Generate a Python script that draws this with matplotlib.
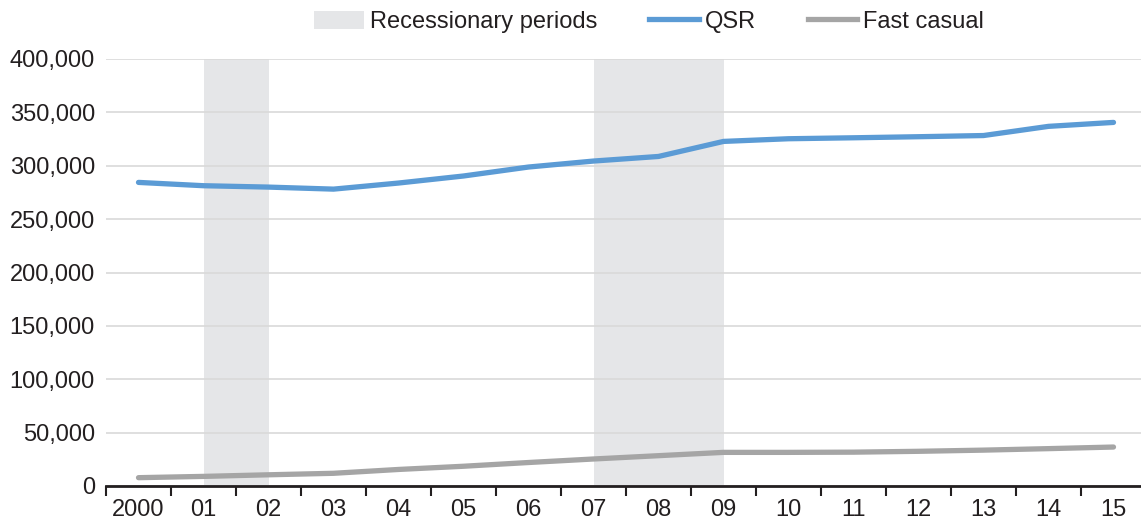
import matplotlib.pyplot as plt
import numpy as np
from matplotlib.patches import Patch
from matplotlib.lines import Line2D

plt.rcParams['font.family'] = ['Liberation Sans', 'DejaVu Sans']

years = ['2000', '01', '02', '03', '04', '05', '06', '07',
         '08', '09', '10', '11', '12', '13', '14', '15']
qsr = [284400, 281300, 280000, 278100, 283800, 290400, 298800, 304400,
       308700, 322800, 325300, 326200, 327200, 328300, 336900, 340600]
fast_casual = [7800, 9000, 10500, 11900, 15500, 18500, 22000, 25300,
               28400, 31500, 31500, 31700, 32500, 33600, 35000, 36500]
recessions = [(1, 2), (7, 9)]  # start / end index
yticks = [0, 50000, 100000, 150000, 200000, 250000, 300000, 350000, 400000]

fs = 17
fig = plt.figure(figsize=(11.41, 5.23), dpi=100)
ax = fig.add_axes([106 / 1141, 1 - 486 / 523, 1040 / 1141, 427 / 523])

x = np.arange(len(years))
for a, b in recessions:
    ax.axvspan(a, b, color='#e5e6e8', lw=0, zorder=0)

ax.plot(x, qsr, color='#5b9bd5', lw=3.8, solid_capstyle='round', zorder=3)
ax.plot(x, fast_casual, color='#a5a5a5', lw=3.8, solid_capstyle='round', zorder=3)

ax.set_xlim(-0.5, len(years) - 0.5)
ax.set_ylim(0, 400000)
ax.set_yticks(yticks)
ax.set_yticklabels([f'{v:,}' for v in yticks])
ax.yaxis.grid(True, color='#d9d9d9', lw=1.2)
ax.set_axisbelow(True)

ax.set_xticks(x)
ax.set_xticklabels(years)
ax.set_xticks(np.arange(-0.5, len(years), 1), minor=True)
ax.tick_params(axis='x', which='major', length=0, pad=9, labelsize=fs, colors='#231f20')
ax.tick_params(axis='x', which='minor', length=7, width=1.5, direction='out', color='#231f20')
ax.tick_params(axis='y', length=0, pad=8, labelsize=fs, colors='#231f20')

for s in ['top', 'right', 'left']:
    ax.spines[s].set_visible(False)
ax.spines['bottom'].set_linewidth(2)
ax.spines['bottom'].set_color('#231f20')
ax.spines['bottom'].set_zorder(4)

handles = [Patch(facecolor='#e5e6e8', edgecolor='none'),
           Line2D([], [], color='#5b9bd5', lw=3.8),
           Line2D([], [], color='#a5a5a5', lw=3.8)]
labels = ['Recessionary periods', 'QSR', 'Fast casual']
fig.legend(handles, labels, loc='center', bbox_to_anchor=(0.569, 0.958), ncol=3,
           frameon=False, fontsize=fs, handlelength=2.1, handleheight=0.8,
           handletextpad=0.25, columnspacing=2.2, labelcolor='#231f20')

fig.savefig('out.png', dpi=100)
